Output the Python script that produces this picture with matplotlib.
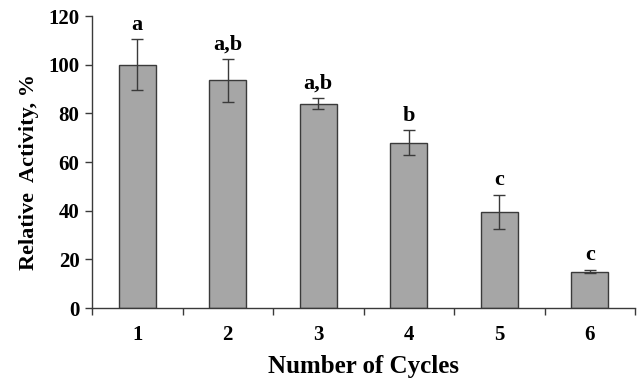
import numpy as np
import matplotlib.pyplot as plt

cycles = ['1', '2', '3', '4', '5', '6']
activity = [100, 93.5, 84, 68, 39.5, 15]
errors = [10.5, 9, 2.3, 5, 7, 0.8]
letters = ['a', 'a,b', 'a,b', 'b', 'c', 'c']

plt.rcParams['font.family'] = 'Liberation Serif'
plt.rcParams['font.weight'] = 'bold'

fig = plt.figure(figsize=(6.4, 3.79), dpi=100)
ax = fig.add_axes([92 / 640, 1 - 308 / 379, 543 / 640, 292 / 379])

x = np.arange(len(cycles))
ax.bar(x, activity, width=0.41, color='#a6a6a6', edgecolor='#3a3a3a', linewidth=1.0,
       yerr=errors, error_kw=dict(ecolor='#3a3a3a', elinewidth=1.0, capsize=4, capthick=1.0))

for xi, v, e, lab in zip(x, activity, errors, letters):
    ax.text(xi, v + e + 1.8, lab, ha='center', va='bottom', fontsize=16, fontweight='bold')

ax.set_xlim(-0.5, len(cycles) - 0.5)
ax.set_ylim(0, 120)
ax.set_yticks(range(0, 121, 20))
ax.set_xticks(np.arange(-0.5, len(cycles), 1))
ax.set_xticklabels([])
ax.set_xticks(x, minor=True)
ax.set_xticklabels(cycles, minor=True)
ax.tick_params(axis='x', which='major', direction='out', length=5, width=1, color='#3a3a3a')
ax.tick_params(axis='x', which='minor', length=0, pad=12, labelsize=15)
ax.tick_params(axis='y', direction='out', length=5, width=1, color='#3a3a3a', labelsize=15, pad=4)

for s in ['top', 'right']:
    ax.spines[s].set_visible(False)
for s in ['left', 'bottom']:
    ax.spines[s].set_color('#3a3a3a')
    ax.spines[s].set_linewidth(1.0)

ax.set_xlabel('Number of Cycles', fontsize=18, fontweight='bold')
ax.xaxis.set_label_coords(0.5, -(355 - 308) / 292)
ax.set_ylabel('Relative  Activity, %', fontsize=16, fontweight='bold')
ax.yaxis.set_label_coords(-(92 - 39) / 543, 0.466)

fig.savefig('out.png', dpi=100)
